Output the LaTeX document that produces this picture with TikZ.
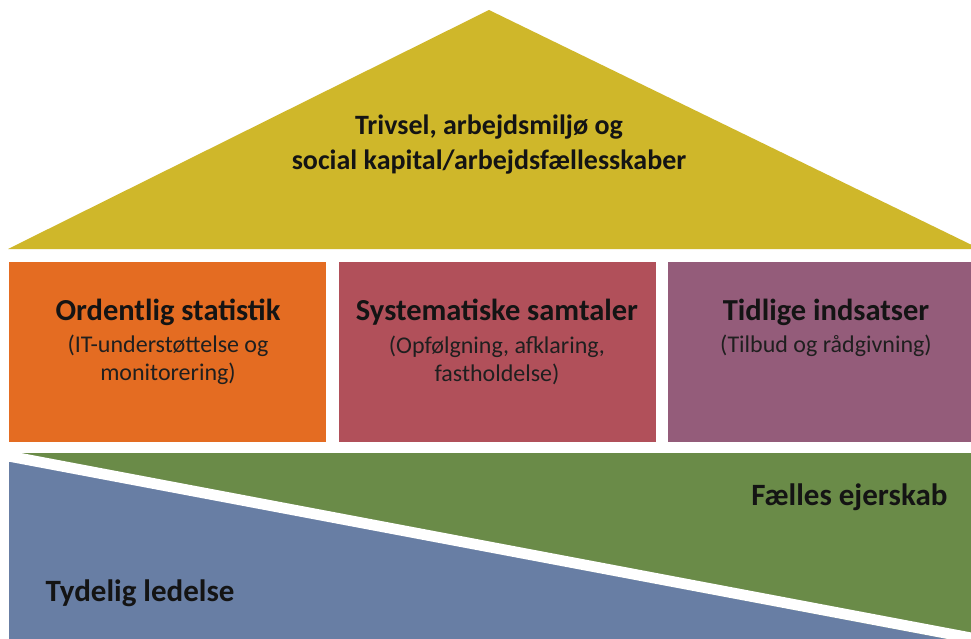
\documentclass[tikz,border=0pt]{standalone}
\usepackage{fontspec}
\setmainfont{Carlito}
\definecolor{roofc}{RGB}{207,183,42}
\definecolor{orangec}{RGB}{228,108,34}
\definecolor{redc}{RGB}{177,80,90}
\definecolor{purplec}{RGB}{148,92,122}
\definecolor{greenc}{RGB}{106,139,72}
\definecolor{bluec}{RGB}{104,126,164}
\tikzset{
  pillar/.style={draw=none, minimum width=317pt, minimum height=180pt, anchor=north west, inner sep=0pt},
  titletext/.style={font=\fontsize{30.5}{34}\selectfont\bfseries, text=black!92, align=center},
  subtext/.style={font=\fontsize{24}{28}\selectfont, text=black!88, align=center},
  basetext/.style={font=\fontsize{31}{34}\selectfont\bfseries, text=black!92}
}
\begin{document}
\begin{tikzpicture}[x=1pt,y=-1pt]
\useasboundingbox (0,0) rectangle (971,639);
\fill[white] (0,0) rectangle (971,639);
\clip (0,0) rectangle (971,639);
% roof
\fill[roofc] (8,249) -- (489,10) -- (980,249) -- cycle;
\node[titletext, font=\fontsize{28}{35}\selectfont\bfseries] (roof) at (489,145) {Trivsel, arbejdsmiljø og\\social kapital/arbejdsfællesskaber};
% pillars
\node[pillar, fill=orangec] (p1) at (9,262) {};
\node[pillar, fill=redc] (p2) at (339,262) {};
\node[pillar, fill=purplec] (p3) at (668,262) {};
\node[titletext] (t1) at (168,312) {Ordentlig statistik};
\node[subtext] (s1) at (168,360) {(IT-understøttelse og\\monitorering)};
\node[titletext] (t2) at (497,312) {Systematiske samtaler};
\node[subtext] (s2) at (497,360) {(Opfølgning, afklaring,\\fastholdelse)};
\node[titletext] (t3) at (826,312) {Tidlige indsatser};
\node[subtext] (s3) at (826,346) {(Tilbud og rådgivning)};
% foundation
\fill[greenc] (9,453) rectangle (980,645);
\fill[bluec] (9,461) -- (990,647) -- (990,660) -- (9,660) -- cycle;
\fill[white] (0,449) -- (990,636) -- (990,647) -- (0,460) -- cycle;
\node[basetext, anchor=east] (fe) at (951,497) {Fælles ejerskab};
\node[basetext, anchor=west] (tl) at (42,593) {Tydelig ledelse};
\end{tikzpicture}
\end{document}
